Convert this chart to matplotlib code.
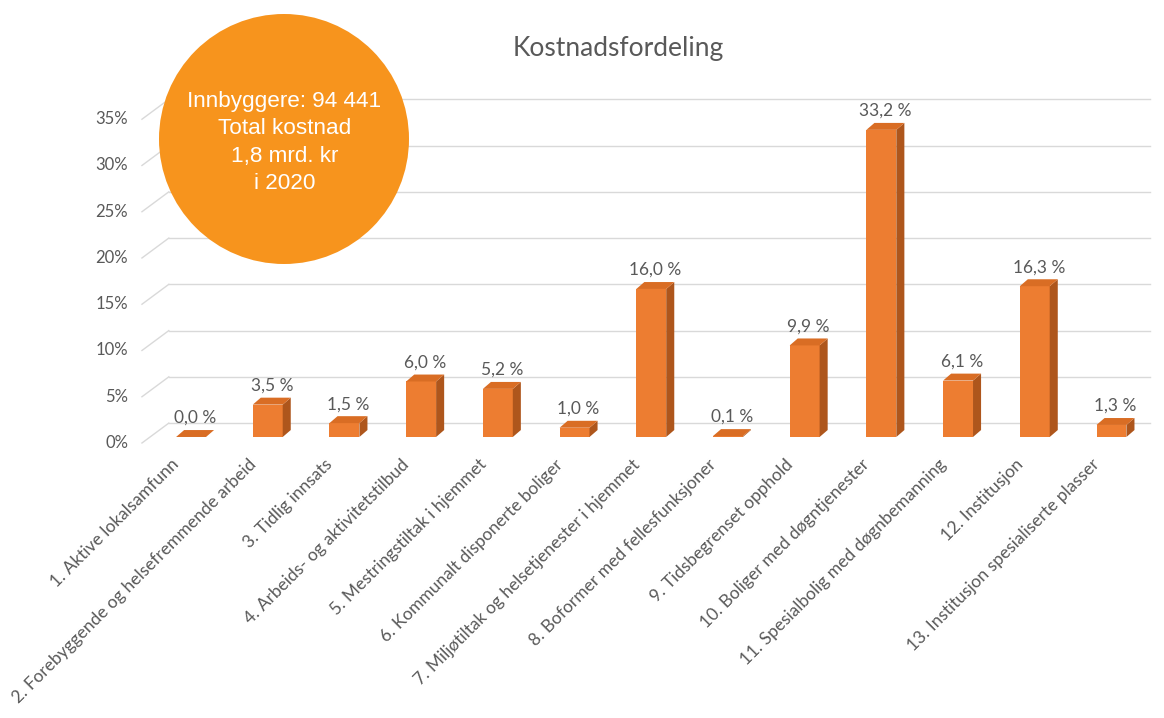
import matplotlib
import matplotlib.pyplot as plt
from matplotlib.patches import Circle, Polygon, Rectangle

matplotlib.use("Agg")

categories = [
    "1. Aktive lokalsamfunn",
    "2. Forebyggende og helsefremmende arbeid",
    "3. Tidlig innsats",
    "4. Arbeids- og aktivitetstilbud",
    "5. Mestringstiltak i hjemmet",
    "6. Kommunalt disponerte boliger",
    "7. Miljøtiltak og helsetjenester i hjemmet",
    "8. Boformer med fellesfunksjoner",
    "9. Tidsbegrenset opphold",
    "10. Boliger med døgntjenester",
    "11. Spesialbolig med døgnbemanning",
    "12. Institusjon",
    "13. Institusjon spesialiserte plasser",
]
shares = [0.0, 3.5, 1.5, 6.0, 5.2, 1.0, 16.0, 0.1, 9.9, 33.2, 6.1, 16.3, 1.3]
y_ticks = [0, 5, 10, 15, 20, 25, 30, 35]
bubble_lines = ["Innbyggere: 94 441", "Total kostnad", "1,8 mrd. kr", "i 2020"]

FRONT = "#ED7D31"
SIDE = "#AE561C"
TOP = "#D96D24"
GRID = "#D9D9D9"
TXT = "#595959"
FONT = "Lato"

# pseudo-3D geometry (data units)
bw = 0.39           # bar front width
dx, dy = 0.105, 0.75  # bar depth offset
floor_front, wall = -0.65, 1.5
left_front, left_back, right_end = -0.64, -0.29, 12.5

fig = plt.figure(figsize=(11.64, 7.18), dpi=100)
ax = fig.add_axes([0.118, 0.3785, 0.8764, 0.4896])
ax.set_xlim(-0.7, 12.6)
ax.set_ylim(-1, 37)
ax.axis("off")

for v in y_ticks:
    ax.plot([left_front, left_back], [v + floor_front, v + wall], color=GRID, lw=1, zorder=1, clip_on=False)
    ax.plot([left_back, right_end], [v + wall, v + wall], color=GRID, lw=1, zorder=1, clip_on=False)
    ax.text(-0.82, v + floor_front, f"{v}%", ha="right", va="center", fontsize=12,
            color=TXT, family=FONT, clip_on=False)

for i, v in enumerate(shares):
    x0, x1 = i - bw / 2, i + bw / 2
    ax.add_patch(Rectangle((x0, 0), bw, v, facecolor=FRONT, edgecolor="none", zorder=3))
    ax.add_patch(Polygon([(x1, 0), (x1 + dx, dy), (x1 + dx, v + dy), (x1, v)],
                         closed=True, facecolor=SIDE, edgecolor="none", zorder=3))
    ax.add_patch(Polygon([(x0, v), (x0 + dx, v + dy), (x1 + dx, v + dy), (x1, v)],
                         closed=True, facecolor=TOP, edgecolor="none", zorder=3))
    ax.annotate(f"{v:.1f} %".replace(".", ","), (i + dx / 2, v + dy), xytext=(0, 4),
                textcoords="offset pixels", ha="center", va="bottom", fontsize=12.5,
                color=TXT, family=FONT, annotation_clip=False)
    ax.text(i - 0.26, -2.1, categories[i], rotation=45, rotation_mode="anchor", ha="right", va="top",
            fontsize=12.5, color=TXT, family=FONT, clip_on=False)

fig.text(0.531, 0.933, "Kostnadsfordeling", ha="center", va="center", fontsize=19,
         color=TXT, family=FONT)

fig.add_artist(Circle((2.84, 5.79), 1.25, transform=fig.dpi_scale_trans,
                      facecolor="#F7941D", edgecolor="none", zorder=10))
fig.text(2.845 / 11.64, 5.755 / 7.18, "\n".join(bubble_lines), ha="center", va="center",
         fontsize=16.2, color="white", family="Liberation Sans", linespacing=1.38, zorder=11)

fig.savefig("out.png", dpi=100)
